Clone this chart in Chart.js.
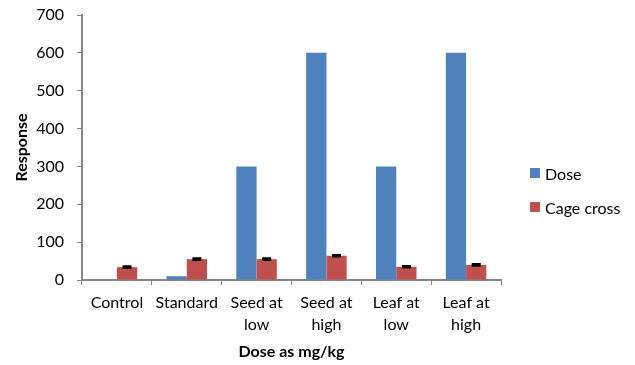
<!DOCTYPE html>
<html>
<head>
<meta charset="utf-8">
<script src="https://cdn.jsdelivr.net/npm/chart.js@4/dist/chart.umd.min.js"></script>
<style>
  html, body { margin: 0; padding: 0; background: #fff; }
  #wrap { position: relative; width: 635px; height: 365px; }
  #legend { position: absolute; left: 530px; top: 163px; font-family: Lato, "Open Sans", sans-serif; font-size: 16px; color: #000; }
  #legend .item { display: flex; align-items: center; height: 20px; margin-bottom: 14px; }
  #legend .sw { width: 10px; height: 10px; margin-right: 5px; }
</style>
</head>
<body>
<div id="wrap">
  <canvas id="chart" width="635" height="365"></canvas>
  <div id="legend"></div>
</div>
<script>
// Treatment groups along the x axis
const categories = ["Control", "Standard", ["Seed at", "low"], ["Seed at", "high"], ["Leaf at", "low"], ["Leaf at", "high"]];
// Dose given (mg/kg)
const doseValues = [0, 10, 300, 600, 300, 600];
// Cage cross response with its error
const cageValues = [34, 55, 55, 64, 35, 40];
const cageErrors = [1.5, 1.5, 1.5, 1.5, 1.5, 1.5];
const yTicks = [0, 100, 200, 300, 400, 500, 600, 700];

const seriesNames = ["Dose", "Cage cross"];
const seriesColors = ["#4F81BD", "#C0504D"];

const FONT = "Lato, 'Open Sans', sans-serif";

// Error bars drawn on top of the cage cross series
const errorBars = {
  id: 'errorBars',
  afterDatasetsDraw(chart) {
    const meta = chart.getDatasetMeta(1);
    const y = chart.scales.y;
    const ctx = chart.ctx;
    ctx.save();
    ctx.strokeStyle = '#000';
    ctx.lineWidth = 2.5;
    meta.data.forEach((bar, i) => {
      const v = cageValues[i], e = cageErrors[i];
      const yt = y.getPixelForValue(v + e), yb = y.getPixelForValue(v - e);
      const x = bar.x, hw = 4.5;
      ctx.beginPath();
      ctx.moveTo(x, yt); ctx.lineTo(x, yb);
      ctx.moveTo(x - hw, yt); ctx.lineTo(x + hw, yt);
      ctx.moveTo(x - hw, yb); ctx.lineTo(x + hw, yb);
      ctx.stroke();
    });
    ctx.restore();
  }
};

const chart = new Chart(document.getElementById('chart'), {
  type: 'bar',
  data: {
    labels: categories,
    datasets: [
      { label: seriesNames[0], data: doseValues, backgroundColor: seriesColors[0] },
      { label: seriesNames[1], data: cageValues, backgroundColor: seriesColors[1] }
    ]
  },
  options: {
    responsive: false,
    animation: false,
    devicePixelRatio: 1,
    layout: { padding: { top: 0, right: 134, left: 12, bottom: 4 } },
    datasets: { bar: { categoryPercentage: 0.58, barPercentage: 1.0 } },
    plugins: {
      legend: { display: false },
      tooltip: { enabled: false }
    },
    scales: {
      x: {
        afterFit(scale) { scale.height = 81; },
        grid: { display: true, drawOnChartArea: false, color: '#868686', tickLength: 5, offset: true },
        border: { color: '#868686', width: 2 },
        ticks: { color: '#000', font: { family: FONT, size: 16, lineHeight: 1.38 }, maxRotation: 0, autoSkip: false, padding: 7 },
        title: { display: true, text: 'Dose as mg/kg', color: '#000', font: { family: FONT, size: 16, weight: 'bold' }, padding: { top: 0, bottom: 0 } }
      },
      y: {
        min: 0, max: 700,
        afterFit(scale) { scale.width = 70; scale.paddingTop = 15; },
        afterBuildTicks(scale) { scale.ticks = yTicks.map(v => ({ value: v })); },
        grid: { display: true, drawOnChartArea: false, color: '#868686', tickLength: 5 },
        border: { color: '#868686', width: 2 },
        ticks: { color: '#000', font: { family: FONT, size: 16 }, padding: 13 },
        title: { display: true, text: 'Response', color: '#000', font: { family: FONT, size: 16, weight: 'bold' }, padding: { top: 0, bottom: 0 } }
      }
    }
  },
  plugins: [errorBars]
});

// Legend beside the plot
const legendEl = document.getElementById('legend');
seriesNames.forEach((name, i) => {
  const item = document.createElement('div');
  item.className = 'item';
  const sw = document.createElement('span');
  sw.className = 'sw';
  sw.style.background = seriesColors[i];
  const txt = document.createElement('span');
  txt.textContent = name;
  item.appendChild(sw); item.appendChild(txt);
  legendEl.appendChild(item);
});
</script>
</body>
</html>
